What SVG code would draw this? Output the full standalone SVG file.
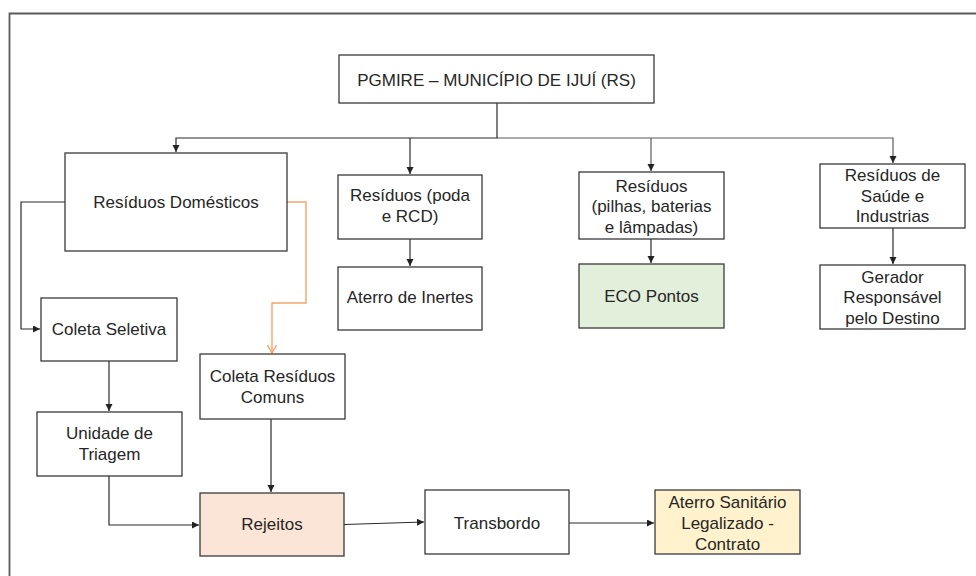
<svg xmlns="http://www.w3.org/2000/svg" width="976" height="576" viewBox="0 0 976 576">
<defs>
<style>
.box{fill:#fff;stroke:#3a3a3a;stroke-width:1.3}
.t{font-family:"Liberation Sans",Arial,sans-serif;font-size:17px;fill:#262626;text-anchor:middle}
.c{fill:none;stroke:#2a2a2a;stroke-width:1.2}
.cg{fill:none;stroke:#5a5a5a;stroke-width:1.2}
.co{fill:none;stroke:#F5A46C;stroke-width:1.4}
</style>
<marker id="ah" markerUnits="userSpaceOnUse" markerWidth="8" markerHeight="8" refX="7" refY="3.5" orient="auto">
<path d="M0,0 L7,3.5 L0,7 z" fill="#222"/>
</marker>
<marker id="ao" markerUnits="userSpaceOnUse" markerWidth="10" markerHeight="10" refX="8" refY="4.5" orient="auto">
<path d="M0,0 L8,4.5 L0,9" fill="none" stroke="#F5A46C" stroke-width="1.4"/>
</marker>
</defs>
<rect width="976" height="576" fill="#fff"/>
<path d="M9.5,576 V13.5 H976" fill="none" stroke="#5a5a5a" stroke-width="1.8"/>

<g id="connectors">
<path class="c" d="M497,103 V138 H176 V152" marker-end="url(#ah)"/>
<path class="cg" d="M497,138 H893 V163" marker-end="url(#ah)"/>
<path class="c" d="M410,138 V174" marker-end="url(#ah)"/>
<path class="cg" d="M651,138 V171" marker-end="url(#ah)"/>
<path class="c" d="M410,239 V266" marker-end="url(#ah)"/>
<path class="c" d="M651,239 V263" marker-end="url(#ah)"/>
<path class="c" d="M893,228 V264" marker-end="url(#ah)"/>
<path class="c" d="M65,202 H21 V329 H40" marker-end="url(#ah)"/>
<path class="co" d="M287,202 H306 V303 H272 V353" marker-end="url(#ao)"/>
<path class="c" d="M109,361 V411" marker-end="url(#ah)"/>
<path class="c" d="M109,476 V525 H199" marker-end="url(#ah)"/>
<path class="c" d="M271,419 V492" marker-end="url(#ah)"/>
<path class="c" d="M344,524.5 L424,522" marker-end="url(#ah)"/>
<path class="c" d="M569,523 H654" marker-end="url(#ah)"/>
</g>

<g id="pgmire"><rect class="box" x="339" y="55" width="315" height="48"/><text class="t" x="496.5" y="86">PGMIRE – MUNICÍPIO DE IJUÍ (RS)</text></g>
<g id="domesticos"><rect class="box" x="65" y="153" width="222" height="98"/><text class="t" x="176" y="208">Resíduos Domésticos</text></g>
<g id="poda"><rect class="box" x="338" y="175" width="144" height="64"/><text class="t" x="410" y="201">Resíduos (poda</text><text class="t" x="410" y="222">e RCD)</text></g>
<g id="inertes"><rect class="box" x="338" y="267" width="144" height="63"/><text class="t" x="410" y="303">Aterro de Inertes</text></g>
<g id="pilhas"><rect class="box" x="579" y="172" width="145" height="67"/><text class="t" x="651.5" y="192">Resíduos</text><text class="t" x="651.5" y="212">(pilhas, baterias</text><text class="t" x="651.5" y="233">e lâmpadas)</text></g>
<g id="ecopontos"><rect class="box" x="579" y="264" width="145" height="64" style="fill:#E2EFDA"/><text class="t" x="651.5" y="302">ECO Pontos</text></g>
<g id="saude"><rect class="box" x="820" y="164" width="145" height="64"/><text class="t" x="892.5" y="181">Resíduos de</text><text class="t" x="892.5" y="202">Saúde e</text><text class="t" x="892.5" y="222">Industrias</text></g>
<g id="gerador"><rect class="box" x="820" y="265" width="145" height="64"/><text class="t" x="892.5" y="283">Gerador</text><text class="t" x="892.5" y="303">Responsável</text><text class="t" x="892.5" y="324">pelo Destino</text></g>
<g id="seletiva"><rect class="box" x="41" y="298" width="136" height="63"/><text class="t" x="109" y="335">Coleta Seletiva</text></g>
<g id="comuns"><rect class="box" x="200" y="354" width="145" height="65"/><text class="t" x="272.5" y="382">Coleta Resíduos</text><text class="t" x="272.5" y="403">Comuns</text></g>
<g id="triagem"><rect class="box" x="37" y="412" width="145" height="64"/><text class="t" x="109.5" y="439">Unidade de</text><text class="t" x="109.5" y="460">Triagem</text></g>
<g id="rejeitos"><rect class="box" x="200" y="493" width="144" height="63" style="fill:#FBE5D6"/><text class="t" x="272" y="530">Rejeitos</text></g>
<g id="transbordo"><rect class="box" x="425" y="490" width="144" height="64"/><text class="t" x="497" y="529">Transbordo</text></g>
<g id="aterro"><rect class="box" x="655" y="490" width="145" height="64" style="fill:#FFF2CC"/><text class="t" x="727.5" y="508">Aterro Sanitário</text><text class="t" x="727.5" y="529">Legalizado -</text><text class="t" x="727.5" y="550">Contrato</text></g>
</svg>
